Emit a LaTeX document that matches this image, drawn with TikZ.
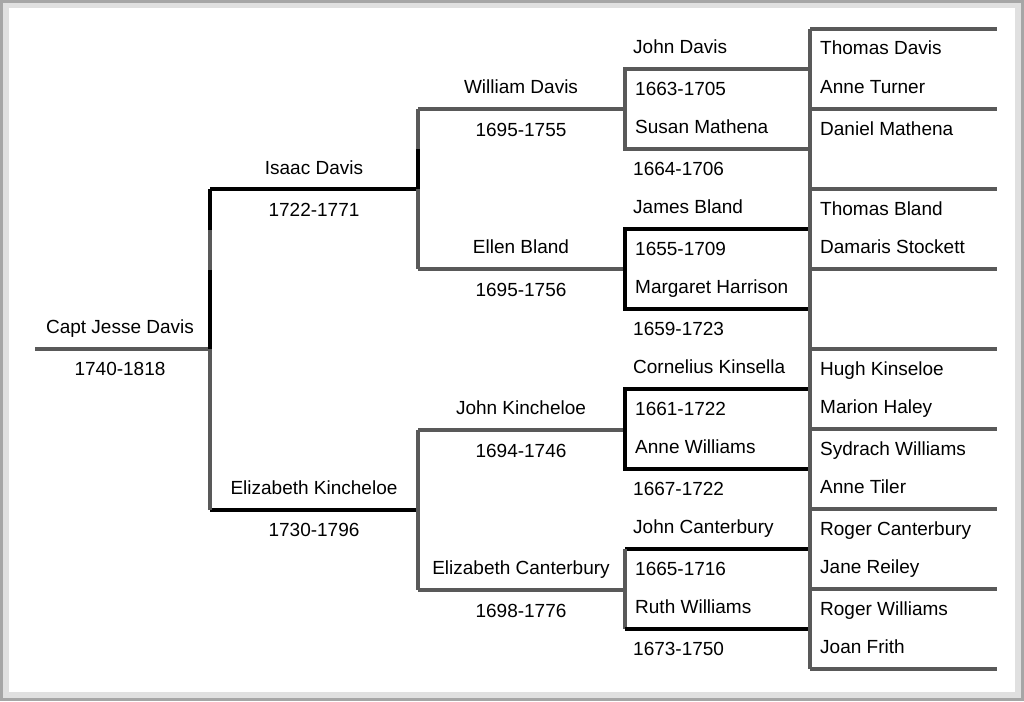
\documentclass[tikz,border=0pt]{standalone}
\usepackage{fontspec}
\setmainfont{Liberation Sans}
\begin{document}
\begin{tikzpicture}[x=1pt,y=-1pt,
  g/.style={draw=black!65,line width=4pt},
  b/.style={draw=black,line width=4pt},
  t/.style={font=\fontsize{19}{22}\selectfont,inner sep=0pt,anchor=base},
  tl/.style={t,anchor=base west}]
\useasboundingbox (0,0) rectangle (1024,701);
\fill[black!35] (0,0) rectangle (1024,701);
\fill[black!12] (3,3) rectangle (1021,698);
\fill[white] (9,8) rectangle (1015,692);
% gen0
\draw[g] (35,349) -- (210,349);
\node[t] (p0) at (120,333) {Capt Jesse Davis};
\node[t] (d0) at (120,375) {1740-1818};
% gen1
\draw[b] (210,189) -- (418,189);
\draw[b] (210,510) -- (418,510);
\draw[b] (210,189) -- (210,230);
\draw[g] (210,230) -- (210,270);
\draw[b] (210,270) -- (210,349);
\draw[g] (210,349) -- (210,510);
\node[t] at (314,174) {Isaac Davis};
\node[t] at (314,216) {1722-1771};
\node[t] at (314,494) {Elizabeth Kincheloe};
\node[t] at (314,536) {1730-1796};
% gen2
\foreach \y/\n/\d [count=\i] in {109/William Davis/1695-1755,269/Ellen Bland/1695-1756,430/John Kincheloe/1694-1746,590/Elizabeth Canterbury/1698-1776}{
  \draw[g] (418,\y) -- (625,\y);
  \node[t] at (521,\y-16) {\n};
  \node[t] at (521,\y+27) {\d};
}
\draw[g] (418,109) -- (418,149);
\draw[b] (418,149) -- (418,189);
\draw[g] (418,189) -- (418,269);
\draw[g] (418,430) -- (418,590);
% gen3 boxes
\draw[g] (810,69) -- (625,69) -- (625,149) -- (810,149);
\draw[b] (810,229) -- (625,229) -- (625,309) -- (810,309);
\draw[b] (810,389) -- (625,389) -- (625,469) -- (810,469);
\draw[b] (810,549) -- (625,549);
\draw[g] (625,549) -- (625,629);
\draw[b] (625,629) -- (810,629);
\foreach \y/\a/\b/\c/\d in {69/John Davis/1663-1705/Susan Mathena/1664-1706,
  229/James Bland/1655-1709/Margaret Harrison/1659-1723,
  389/Cornelius Kinsella/1661-1722/Anne Williams/1667-1722,
  549/John Canterbury/1665-1716/Ruth Williams/1673-1750}{
  \node[tl] at (633,\y-16) {\a};
  \node[tl] at (635,\y+26) {\b};
  \node[tl] at (635,\y+64) {\c};
  \node[tl] at (633,\y+106) {\d};
}
% gen4
\draw[g] (810,29) -- (810,669);
\foreach \y in {29,109,189,269,349,429,509,589,669} \draw[g] (810,\y) -- (997,\y);
\foreach \y/\n in {49/Thomas Davis,87/Anne Turner,129/Daniel Mathena,209/Thomas Bland,247/Damaris Stockett,369/Hugh Kinseloe,407/Marion Haley,449/Sydrach Williams,487/Anne Tiler,529/Roger Canterbury,567/Jane Reiley,609/Roger Williams,647/Joan Frith}
  \node[tl] at (820,\y+6) {\n};
\end{tikzpicture}
\end{document}
